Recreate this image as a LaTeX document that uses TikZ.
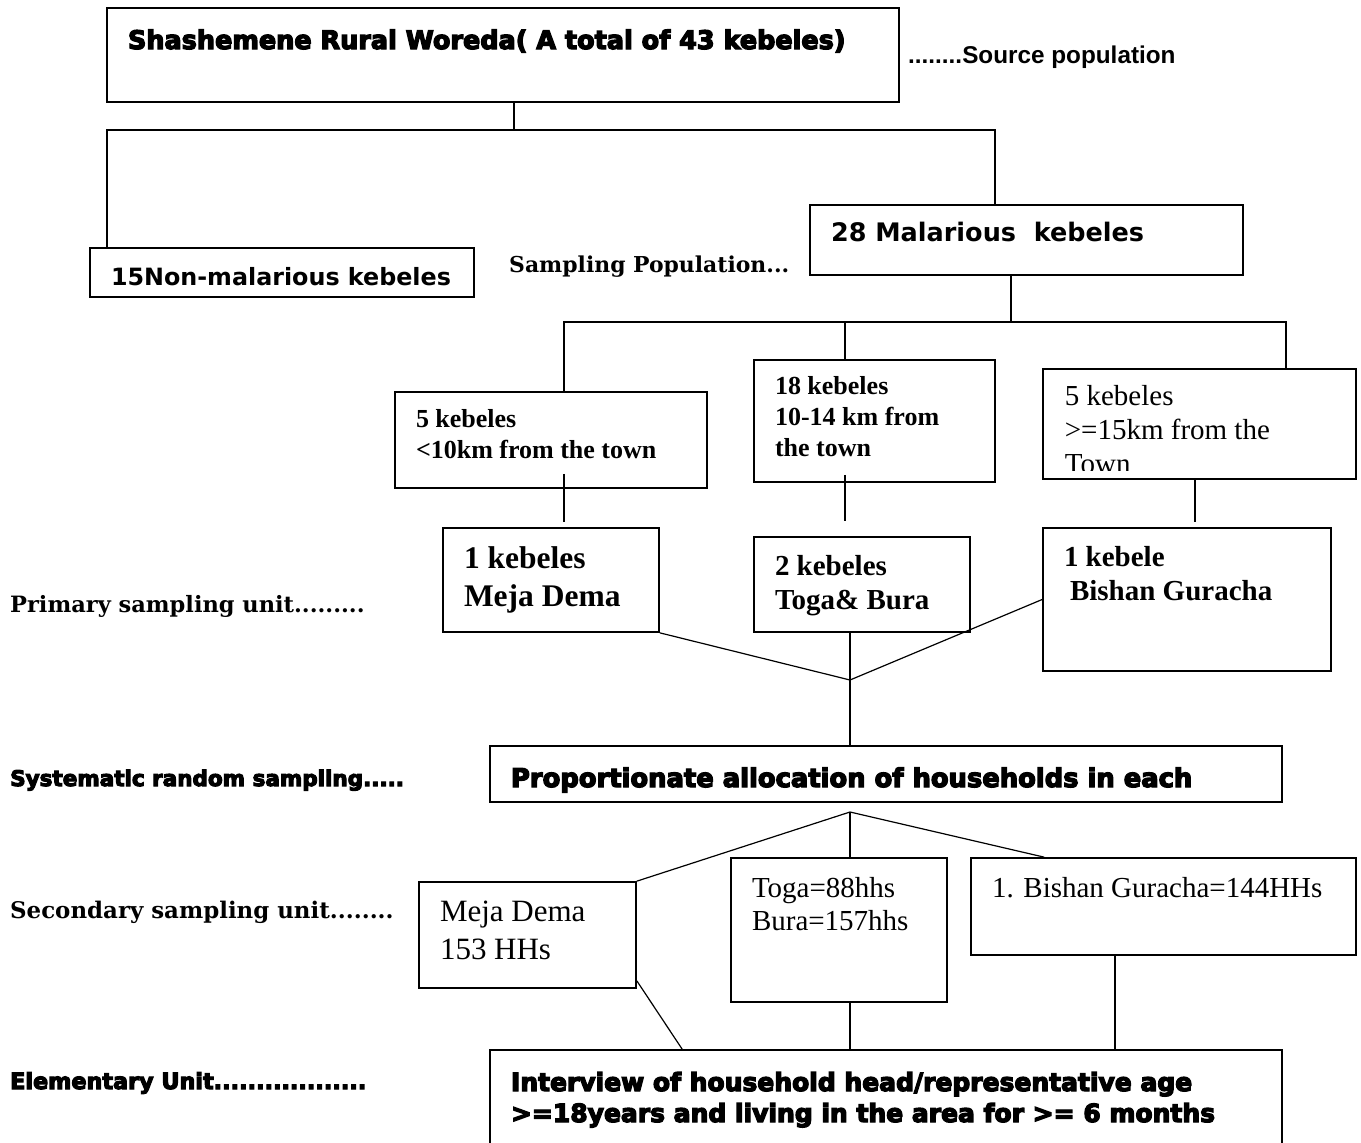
\documentclass[tikz,border=0pt]{standalone}
\usepackage{fontspec}
\setmainfont{Liberation Serif}
\newfontfamily\hvyfont{DejaVu Sans}[BoldFeatures={FakeBold=5}]
\newfontfamily\vrdfont{DejaVu Sans}
\newfontfamily\bkmfont{DejaVu Serif}
\newfontfamily\arlfont{Liberation Sans}
\usetikzlibrary{calc}
% font switches: size, baseline skip
\newcommand{\hvy}[2]{\hvyfont\bfseries\fontsize{#1}{#2}\selectfont}
\newcommand{\vrd}[2]{\vrdfont\bfseries\fontsize{#1}{#2}\selectfont}
\newcommand{\bkm}[2]{\bkmfont\bfseries\fontsize{#1}{#2}\selectfont}
\newcommand{\arl}[2]{\arlfont\bfseries\fontsize{#1}{#2}\selectfont}
\newcommand{\tms}[2]{\rmfamily\mdseries\fontsize{#1}{#2}\selectfont}
\newcommand{\tmsb}[2]{\rmfamily\bfseries\fontsize{#1}{#2}\selectfont}
% box content: width, height, first baseline from top, text
\newcommand{\boxin}[4]{\parbox[c][#2pt][t]{#1pt}{\leftskip=21pt\rightskip=-80pt plus 1fil\parfillskip=0pt plus 1fil\rule{0pt}{#3pt}#4}}

\begin{document}
\begin{tikzpicture}[x=1pt,y=-1pt,
    box/.style={draw, line width=1.7pt, inner sep=0pt, fill=white},
    conn/.style={line width=1.2pt},
    side/.style={anchor=base west, inner sep=0pt}]
  \useasboundingbox (0,0) rectangle (1361,1143);
  % ---- levels ----
  \node[box] (src) at (503,55)
    {\boxin{792}{94}{41}{\hvy{25.5}{31}Shashemene Rural Woreda( A total of 43 kebeles)}};
  \node[side] (srcpop) at (908,63) {\arl{24.3}{28}........Source population};
  \node[box] (nonmal) at (282,272.5)
    {\boxin{384}{49}{37}{\vrd{23.8}{29}15Non-malarious kebeles}};
  \node[box] (mal) at (1026.5,240)
    {\boxin{433}{70}{36}{\vrd{25.5}{30}28 Malarious~ kebeles}};
  \node[side] (samppop) at (509,272) {\bkm{21.9}{25}Sampling Population...};
  % ---- distance groups ----
  \node[box] (k5a) at (551,440)
    {\boxin{312}{96}{35}{\tmsb{26}{31}5 kebeles\\ <10km from the town}};
  \node[box] (k18) at (874.5,421)
    {\boxin{241}{122}{34}{\tmsb{26}{31}18 kebeles\\ 10-14 km from\\ the town}};
  \node[box, minimum width=313pt, minimum height=110pt,
    path picture={
      \clip ([yshift=9pt]path picture bounding box.south west) rectangle (path picture bounding box.north east);
      \node[anchor=north west, inner sep=0pt] at (path picture bounding box.north west)
        {\boxin{313}{110}{36}{\tms{29}{34}5 kebeles\\ >=15km from the\\ Town}};
    }] (k5b) at (1199.5,424) {};
  % ---- primary sampling units ----
  \node[box] (psu1) at (551,580)
    {\boxin{216}{104}{40}{\tmsb{31.5}{38}1 kebeles\\ Meja Dema}};
  \node[box] (psu2) at (862,584.5)
    {\boxin{216}{95}{38}{\tmsb{29}{34}2 kebeles\\ Toga\& Bura}};
  \node[box] (psu3) at (1187,599.5)
    {\boxin{288}{143}{38}{\tmsb{29}{34}1 kebele\\ \hspace*{6pt}Bishan Guracha}};
  \node[side] (prim) at (10,612) {\bkm{22.5}{25}Primary sampling unit.........};
  % ---- allocation ----
  \node[box] (prop) at (886,774)
    {\boxin{792}{56}{41}{\hvy{25.8}{31}Proportionate allocation of households in each}};
  \node[side] (syst) at (10,786) {\hvy{21.5}{25}Systematic random sampling.....};
  % ---- secondary sampling units ----
  \node[box] (ssu1) at (527.5,935)
    {\boxin{217}{106}{39}{\tms{31}{38}Meja Dema\\ 153 HHs}};
  \node[box] (ssu2) at (839,930)
    {\boxin{216}{144}{39}{\tms{29}{33}Toga=88hhs\\ Bura=157hhs}};
  \node[box] (ssu3) at (1163.5,906.5)
    {\boxin{385}{97}{39}{\tms{29}{33}1. Bishan Guracha=144HHs}};
  \node[side] (sec) at (10,918) {\bkm{22.9}{25}Secondary sampling unit........};
  % ---- elementary unit ----
  \node[box] (elem) at (886,1105)
    {\boxin{792}{110}{41}{\hvy{25}{31}Interview of household head/representative age\\ >=18years and living in the area for >= 6 months}};
  \node[side] (elemlab) at (10,1089) {\hvy{22.3}{25}Elementary Unit..................};
  % ---- connectors ----
  \coordinate (t0) at (107,130);
  \coordinate (t1) at (514,130);
  \coordinate (t2) at (995,130);
  \draw[conn] (src.south -| t1) -- (t1);
  \draw[conn] (nonmal.north -| t0) -- (t0) -- (t2) -- (mal.north -| t2);
  \coordinate (b0) at (1011,322);
  \coordinate (b1) at (564,322);
  \coordinate (b2) at (845,322);
  \coordinate (b3) at (1286,322);
  \coordinate (b4) at (1195,500);
  \draw[conn] (mal.south -| b0) -- (b0);
  \draw[conn] (k5a.north -| b1) -- (b1) -- (b3) -- (k5b.north -| b3);
  \draw[conn] (b2) -- (k18.north -| b2);
  \draw[conn] ($(k5a.south -| b1)+(0,-15)$) -- ($(psu1.north -| b1)+(0,-5)$);
  \draw[conn] ($(k18.south -| b2)+(0,-8)$) -- ($(psu2.north -| b2)+(0,-15)$);
  \draw[conn] (k5b.south -| b4) -- ($(psu3.north -| b4)+(0,-5)$);
  \coordinate (v1) at (850,680);
  \draw[conn] (psu1.south east) -- (v1);
  \draw[conn] (psu2.south -| v1) -- (v1);
  \draw[conn] (psu3.west) -- (v1);
  \draw[conn] (v1) -- (prop.north -| v1);
  \coordinate (v2) at (850,812);
  \draw[conn] (v2) -- (ssu1.north east);
  \draw[conn] (v2) -- (ssu2.north -| v2);
  \draw[conn] (v2) -- ($(ssu3.north west)+(74,0)$);
  \coordinate (v3) at (1115,1000);
  \draw[conn] ($(ssu1.south east)+(0,-8)$) -- ($(elem.north west)+(193,0)$);
  \draw[conn] (ssu2.south -| v2) -- (elem.north -| v2);
  \draw[conn] (ssu3.south -| v3) -- (elem.north -| v3);
\end{tikzpicture}
\end{document}
